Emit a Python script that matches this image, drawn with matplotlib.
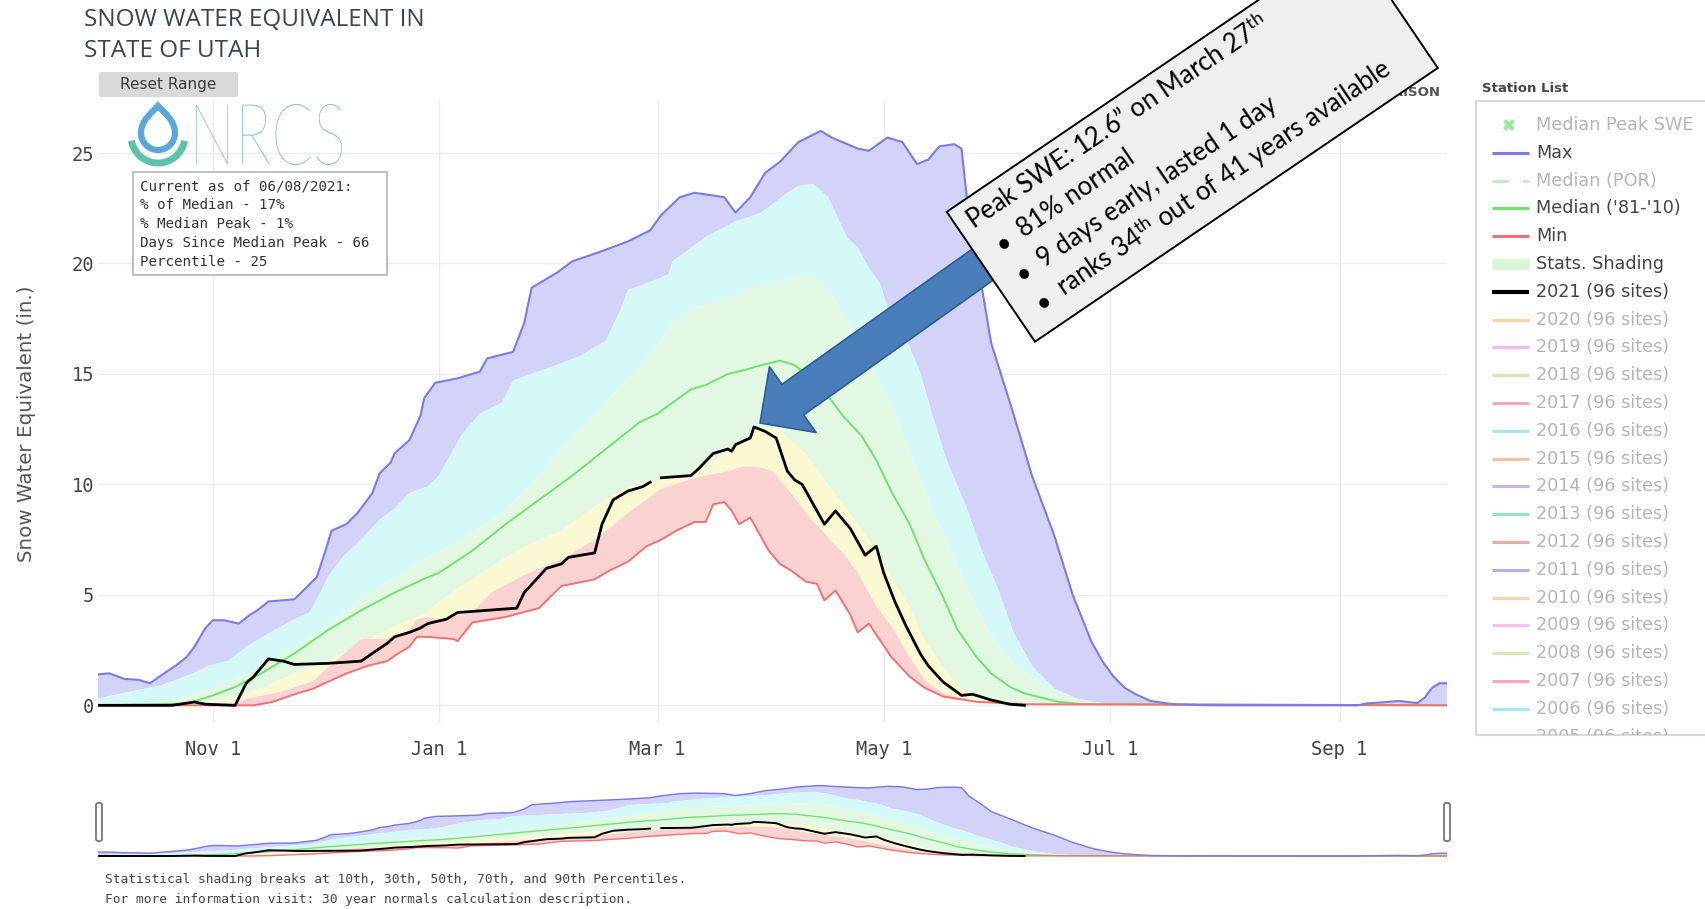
import numpy as np
import pandas as pd
import matplotlib
matplotlib.use("Agg")
import matplotlib.pyplot as plt
import matplotlib.dates as mdates
import matplotlib.patches as mpatches
from matplotlib.path import Path
from matplotlib.textpath import TextPath
from matplotlib.font_manager import FontProperties
from matplotlib.transforms import Affine2D, IdentityTransform
from matplotlib.ticker import FuncFormatter

plt.rcParams["font.family"] = "DejaVu Sans"
plt.rcParams["mathtext.fontset"] = "custom"
plt.rcParams["mathtext.rm"] = "Lato"
plt.rcParams["mathtext.it"] = "Lato:italic"
plt.rcParams["mathtext.bf"] = "Lato:bold"

# water year 2021, day 0 = Oct 1 2020
START = pd.Timestamp("2020-10-01")

# statewide SWE (in.): day of water year -> value
max_days = [0, 3, 7, 11, 14, 17, 21, 24, 26, 29, 31, 34, 38, 41, 43, 46, 53, 56, 59, 61, 63, 67,
            70, 74, 76, 79, 80, 84, 87, 88, 91, 97, 103, 105, 112, 115, 117, 124, 128, 135, 143,
            149, 152, 157, 161, 169, 172, 176, 180, 184, 189, 195, 198, 205, 208, 213, 217, 221,
            224, 227, 231, 233, 235, 238, 241, 247, 252, 258, 263, 268, 271, 274, 277, 280, 284,
            290, 300, 340, 342, 347, 351, 356, 358, 360, 362, 364]
max_vals = [1.4, 1.45, 1.2, 1.15, 1.0, 1.35, 1.8, 2.2, 2.65, 3.5, 3.85, 3.85, 3.7, 4.1, 4.3, 4.7,
            4.8, 5.3, 5.8, 6.8, 7.9, 8.2, 8.7, 9.6, 10.5, 11.0, 11.4, 12.0, 13.1, 13.9, 14.6, 14.8,
            15.1, 15.7, 16.0, 17.3, 18.9, 19.6, 20.1, 20.5, 21.0, 21.5, 22.2, 23.0, 23.2, 23.0,
            22.3, 23.0, 24.1, 24.6, 25.5, 26.0, 25.7, 25.2, 25.1, 25.7, 25.5, 24.5, 24.7, 25.3,
            25.4, 25.2, 22.1, 19.4, 16.4, 13.2, 10.4, 7.7, 5.0, 2.9, 2.0, 1.3, 0.8, 0.5, 0.2, 0.05,
            0.0, 0.0, 0.08, 0.14, 0.2, 0.1, 0.35, 0.8, 1.0, 1.0]

p90_days = [0, 8, 17, 25, 30, 35, 40, 46, 53, 57, 60, 62, 66, 71, 76, 80, 84, 87, 89, 92, 98, 103,
            109, 112, 122, 130, 137, 141, 143, 148, 154, 155, 164, 172, 179, 186, 189, 193, 197,
            202, 205, 208, 211, 214, 218, 222, 225, 229, 234, 238, 243, 247, 252, 258, 265, 274,
            280, 364]
p90_vals = [0.3, 0.6, 0.9, 1.4, 1.8, 2.0, 2.65, 3.25, 3.9, 4.2, 5.1, 5.8, 6.7, 7.5, 8.4, 8.9, 9.6,
            9.8, 9.9, 10.4, 12.2, 13.2, 13.7, 14.7, 15.3, 15.8, 16.5, 17.9, 18.8, 19.1, 19.5, 20.1,
            21.2, 21.9, 22.3, 23.2, 23.5, 23.6, 23.0, 21.2, 20.7, 19.8, 19.1, 17.5, 16.6, 15.0,
            13.2, 11.1, 9.1, 7.2, 5.2, 3.3, 1.8, 0.76, 0.23, 0.05, 0.0, 0.0]

p70_days = [0, 10, 17, 26, 35, 44, 53, 62, 71, 80, 89, 95, 101, 110, 119, 128, 137, 146, 151, 155,
            160, 164, 173, 182, 189, 193, 198, 202, 207, 211, 216, 220, 224, 228, 233, 237, 242,
            248, 255, 262, 269, 276, 364]
p70_vals = [0.0, 0.05, 0.15, 0.5, 1.0, 1.7, 2.6, 3.6, 4.8, 5.8, 6.7, 7.2, 7.8, 8.8, 10.4, 12.1,
            13.7, 15.3, 16.3, 17.3, 18.0, 18.1, 18.6, 19.1, 19.4, 19.5, 18.6, 17.4, 16.0, 14.6,
            12.8, 11.0, 9.3, 7.7, 5.9, 4.4, 2.9, 1.7, 0.9, 0.4, 0.14, 0.0, 0.0]

median_days = [0, 24, 31, 37, 44, 53, 62, 71, 80, 89, 92, 101, 110, 119, 128, 137, 146, 151, 155,
               160, 164, 170, 175, 179, 184, 188, 193, 197, 201, 206, 210, 214, 219, 223, 228,
               232, 237, 241, 246, 250, 259, 265, 364]
median_vals = [0.0, 0.08, 0.45, 0.83, 1.44, 2.35, 3.4, 4.3, 5.1, 5.8, 6.0, 7.0, 8.2, 9.3, 10.4,
               11.6, 12.8, 13.2, 13.7, 14.3, 14.5, 15.0, 15.2, 15.4, 15.6, 15.4, 14.7, 14.0, 13.1,
               12.2, 11.1, 9.7, 8.2, 6.6, 4.9, 3.4, 2.2, 1.44, 0.84, 0.54, 0.16, 0.06, 0.0]

p30_days = [0, 26, 35, 44, 53, 62, 71, 80, 89, 92, 101, 110, 119, 125, 134, 143, 152, 161, 170,
            174, 178, 183, 187, 192, 196, 201, 205, 210, 214, 219, 223, 228, 232, 241, 250, 364]
p30_vals = [0.0, 0.08, 0.3, 0.76, 1.44, 2.0, 2.8, 3.6, 4.2, 4.7, 5.7, 6.7, 7.5, 7.9, 9.0, 9.9,
            10.2, 10.5, 11.5, 12.0, 12.6, 12.6, 12.0, 11.2, 10.2, 9.1, 8.2, 7.0, 5.8, 4.45, 2.95,
            1.74, 0.84, 0.24, 0.05, 0.0]

p10_days = [0, 36, 40, 49, 58, 62, 71, 78, 84, 86, 89, 92, 101, 106, 115, 125, 134, 143, 152,
            161, 170, 174, 178, 182, 187, 192, 196, 202, 205, 210, 214, 219, 223, 228, 237, 247,
            252, 364]
p10_vals = [0.0, 0.0, 0.3, 0.6, 1.1, 1.7, 3.0, 3.0, 3.4, 3.9, 4.0, 3.9, 4.2, 5.1, 5.9, 6.6, 7.5,
            8.7, 9.8, 10.3, 10.6, 10.8, 10.8, 10.6, 9.6, 8.5, 7.8, 6.7, 6.0, 4.5, 3.6, 2.2, 1.14,
            0.54, 0.16, 0.05, 0.0, 0.0]

min_days = [0, 42, 47, 53, 58, 62, 67, 73, 78, 81, 84, 86, 89, 96, 97, 101, 110, 119, 125, 134,
            138, 143, 148, 152, 156, 161, 164, 166, 169, 171, 173, 176, 178, 181, 184, 187, 191,
            194, 196, 199, 203, 205, 208, 211, 214, 219, 223, 228, 237, 250, 364]
min_vals = [0.0, 0.0, 0.15, 0.5, 0.75, 1.06, 1.44, 1.8, 2.0, 2.35, 2.65, 3.1, 3.1, 3.0, 2.9, 3.75,
            4.0, 4.4, 5.4, 5.7, 6.1, 6.5, 7.2, 7.5, 7.9, 8.3, 8.3, 9.1, 9.2, 8.8, 8.2, 8.5, 7.9,
            7.0, 6.4, 6.1, 5.6, 5.5, 4.75, 5.2, 4.1, 3.3, 3.7, 2.95, 2.2, 1.3, 0.8, 0.4, 0.16,
            0.05, 0.0]

# 2021 (96 sites), data through 06/08/2021, one missing day around Mar 1
wy21_days = [0, 20, 24, 26, 29, 37, 40, 42, 46, 50, 53, 62, 71, 74, 78, 80, 84, 87, 89, 94, 97,
             113, 115, 121, 125, 127, 134, 136, 139, 143, 147, 149, 150, 152, 160, 162, 166, 170,
             171, 172, 176, 177, 180, 183, 186, 188, 190, 196, 199, 203, 207, 210, 212, 215, 218,
             222, 224, 228, 233, 236, 241, 246, 250]
wy21_vals = [0.0, 0.0, 0.1, 0.15, 0.05, 0.0, 1.0, 1.3, 2.1, 2.0, 1.85, 1.9, 2.0, 2.35, 2.8, 3.1,
             3.3, 3.5, 3.7, 3.9, 4.2, 4.4, 5.1, 6.2, 6.4, 6.7, 6.9, 8.2, 9.3, 9.7, 9.9, 10.1,
             np.nan, 10.3, 10.4, 10.7, 11.4, 11.6, 11.5, 11.8, 12.1, 12.6, 12.4, 12.1, 10.6, 10.2,
             10.0, 8.2, 8.8, 8.0, 6.8, 7.2, 6.0, 4.7, 3.6, 2.3, 1.8, 1.06, 0.45, 0.5, 0.24, 0.05,
             0.0]

series = {
    "max": (max_days, max_vals),
    "p90": (p90_days, p90_vals),
    "p70": (p70_days, p70_vals),
    "p30": (p30_days, p30_vals),
    "p10": (p10_days, p10_vals),
    "min": (min_days, min_vals),
}
# stats shading: 90-max, 70-90, 30-70, 10-30, min-10
bands = [("max", "p90", "#d3d3f9"), ("p90", "p70", "#d5f9f9"), ("p70", "p30", "#e3f8e3"),
         ("p30", "p10", "#fbf9d2"), ("p10", "min", "#fad2d2")]

tick_vals = [0, 5, 10, 15, 20, 25]

info_lines = ["Current as of 06/08/2021:", "% of Median - 17%", "% Median Peak - 1%",
              "Days Since Median Peak - 66", "Percentile - 25"]

note_lines = ["Peak SWE: 12.6\u201d on March 27$^{\\mathrm{th}}$", "81% normal",
              "9 days early, lasted 1 day", "ranks 34$^{\\mathrm{th}}$ out of 41 years available"]

legend_labels = ["Median Peak SWE", "Max", "Median (POR)", "Median ('81-'10)", "Min",
                 "Stats. Shading", "2021 (96 sites)"] + [f"{y} (96 sites)" for y in range(2020, 2004, -1)]
legend_styles = ["marker", "line", "dash", "line", "line", "band", "bold"] + ["line"] * 16
legend_colors = ["#9fe69f", "#7b7be6", "#bdebbd", "#6ee36e", "#f07272", "#d9f4d9", "black",
                 "#fbd3a0", "#f7b6f3", "#c9ebb1", "#f5a9b0", "#a6e5f4", "#f7c0a2", "#cdb0f1",
                 "#98e0c7", "#eca9a1", "#b1b1f2", "#f9d6a8", "#f6c1f1", "#d0edb2", "#f5a8b2",
                 "#a2e8f7", "#f7c8b0"]
legend_active = [False, True, False, True, True, True, True] + [False] * 16

MONO = "DejaVu Sans Mono"
W, H = 1706, 909
fig = plt.figure(figsize=(W / 100, H / 100), dpi=100)


def rect(x0, y0, x1, y1):
    # pixel box measured from the top-left corner -> axes rectangle
    return [x0 / W, 1 - y1 / H, (x1 - x0) / W, (y1 - y0) / H]


def dnum(days):
    return mdates.date2num(START) + np.asarray(days, dtype=float)


def draw_swe(ax, lw):
    for up, lo, col in bands:
        xu, yu = series[up]
        xl, yl = series[lo]
        xs = np.concatenate([dnum(xu), dnum(xl)[::-1]])
        ys = np.concatenate([yu, np.asarray(yl)[::-1]])
        ax.fill(xs, ys, color=col, lw=0, zorder=1)
    ax.plot(dnum(median_days), median_vals, color="#6ee36e", lw=1.4 * lw, zorder=3)
    ax.plot(dnum(min_days), min_vals, color="#f07272", lw=1.4 * lw, zorder=3)
    ax.plot(dnum(max_days), max_vals, color="#7b7be6", lw=1.5 * lw, zorder=3)
    ax.plot(dnum(wy21_days), wy21_vals, color="black", lw=2.0 * lw, zorder=4)
    ax.set_xlim(dnum(0), dnum(364))
    for s in ax.spines.values():
        s.set_visible(False)


# main chart
ax = fig.add_axes(rect(98, 100, 1447, 723))
draw_swe(ax, 1.0)
ax.set_ylim(-0.8, 27.4)
ax.set_yticks(tick_vals)
ax.xaxis.set_major_locator(mdates.MonthLocator(bymonth=[1, 3, 5, 7, 9, 11]))
ax.xaxis.set_major_formatter(FuncFormatter(
    lambda v, p: mdates.num2date(v).strftime("%b ") + str(mdates.num2date(v).day)))
ax.grid(True, color="#ebebf2", lw=1)
ax.set_axisbelow(True)
ax.tick_params(length=0, labelsize=13.5, labelcolor="#444")
for lab in ax.get_xticklabels() + ax.get_yticklabels():
    lab.set_family(MONO)
ax.tick_params(axis="x", pad=12)
ax.tick_params(axis="y", pad=3)
fig.text(27 / W, 1 - 424 / H, "Snow Water Equivalent (in.)", rotation=90, ha="center",
         va="center", size=14.3, color="#555")

# callout arrow pointing at the 2021 peak
ax.annotate("", xy=(760, H - 423), xycoords="figure pixels", xytext=(992, H - 258),
            textcoords="figure pixels", annotation_clip=False,
            arrowprops=dict(arrowstyle="simple,head_length=29,head_width=58,tail_width=27",
                            mutation_scale=1, fc="#4a7ebb", ec="#2d5d93", lw=1.2,
                            shrinkA=0, shrinkB=0))

# text partly hidden behind the callout
fig.text(1440 / W, 1 - 93 / H, "COMPARISON", ha="right", va="center", size=9.5,
         weight="bold", color="#555", zorder=0.5)

# rotated callout box
note_tr = Affine2D().rotate_deg(34.2).translate(1035, H - 341.7)
fig.add_artist(mpatches.Rectangle((0, 0), 487, 157, transform=note_tr, fc="#efefef",
                                  ec="black", lw=1.4, zorder=5))
for i, line in enumerate(note_lines):
    yb = 127 - 35.5 * i
    kw = dict(transform=note_tr, rotation=34.2, rotation_mode="anchor", ha="left",
              va="baseline", family="Lato", size=18.5, zorder=6)
    if i == 0:
        fig.text(12, yb, line, **kw)
    else:
        fig.text(22, yb, "\u2022", **kw)
        fig.text(49, yb, line, **kw)

# title, button
fig.text(84 / W, 1 - 20 / H, "SNOW WATER EQUIVALENT IN", va="center", size=17.5,
         family="Open Sans", color="#3c4454")
fig.text(84 / W, 1 - 51 / H, "STATE OF UTAH", va="center", size=17.5,
         family="Open Sans", color="#3c4454")
fig.add_artist(mpatches.FancyBboxPatch((99, H - 97), 139, 25, boxstyle="round,pad=0,rounding_size=2",
                                       transform=IdentityTransform(), fc="#d9d9d9", lw=0))
fig.text(168 / W, 1 - 85 / H, "Reset Range", ha="center", va="center", size=11, color="#3a3a3a")

# NRCS logo
drop = Path([(0, 1.6), (0.35, 1.2), (1, 0.75), (1, 0), (1, -0.55), (0.55, -1), (0, -1),
             (-0.55, -1), (-1, -0.55), (-1, 0), (-1, 0.75), (-0.35, 1.2), (0, 1.6), (0, 1.6)],
            [Path.MOVETO] + [Path.CURVE4] * 12 + [Path.CLOSEPOLY])
fig.add_artist(mpatches.PathPatch(drop, transform=Affine2D().scale(17).translate(158, H - 133),
                                  fc="none", ec="#5ba8d8", lw=4.5))
fig.add_artist(mpatches.Arc((158, H - 136), 54, 54, theta1=190, theta2=350, lw=5,
                            color="#5fc3a8", transform=IdentityTransform()))
logo = TextPath((0, 0), "NRCS", size=100, prop=FontProperties(family="Lato", weight="light"))
ext = logo.get_extents()
logo_tr = (Affine2D().translate(-ext.x0, -ext.y0)
           .scale(146 / ext.width, 61 / ext.height).translate(196, H - 165))
fig.add_artist(mpatches.PathPatch(logo, transform=logo_tr, fc="#74b6de", lw=0))

# info box
fig.add_artist(mpatches.Rectangle((133, H - 275), 254, 103, transform=IdentityTransform(),
                                  fc="white", ec="#b5b5b5", lw=1.2))
for i, line in enumerate(info_lines):
    fig.text(140 / W, 1 - (186 + 19 * i) / H, line, va="center", size=10.2, family=MONO,
             color="#333")

# legend panel
fig.text(1482 / W, 1 - 88 / H, "Station List", va="center", size=9.5, weight="bold", color="#444")
lg = fig.add_axes(rect(1476, 101, 1706, 735))
lg.set_xlim(0, 230)
lg.set_ylim(634, 0)
lg.set_xticks([])
lg.set_yticks([])
lg.spines["right"].set_visible(False)
for s in ("left", "top", "bottom"):
    lg.spines[s].set_color("#d9d9d9")
    lg.spines[s].set_linewidth(1.5)
for i, (lab, sty, col, act) in enumerate(zip(legend_labels, legend_styles, legend_colors,
                                             legend_active)):
    y = 24 + 27.8 * i
    if sty == "marker":
        lg.plot([33], [y], marker="X", ms=8, color=col, mew=0)
    elif sty == "dash":
        lg.plot([16, 53], [y, y], color=col, lw=2, dashes=(6, 5))
    elif sty == "band":
        lg.plot([16, 53], [y, y], color=col, lw=8, solid_capstyle="butt")
    else:
        lg.plot([16, 53], [y, y], color=col, lw=3 if sty == "bold" else 2.2,
                solid_capstyle="butt")
    lg.text(60, y, lab, va="center", size=12.7, color="#444" if act else "#b4b4bc", clip_on=True)

# range slider
sl = fig.add_axes(rect(98, 779, 1447, 858))
draw_swe(sl, 0.7)
sl.set_ylim(-0.74, 28.4)
sl.set_xticks([])
sl.set_yticks([])
for hx in (96, 1444):
    fig.add_artist(mpatches.FancyBboxPatch((hx, H - 841), 6, 38,
                                           boxstyle="round,pad=0,rounding_size=2",
                                           transform=IdentityTransform(), fc="white",
                                           ec="#777", lw=1.3))

fig.text(105 / W, 1 - 879 / H,
         "Statistical shading breaks at 10th, 30th, 50th, 70th, and 90th Percentiles.",
         va="center", size=9.3, family=MONO, color="#444")
fig.text(105 / W, 1 - 900 / H,
         "For more information visit: 30 year normals calculation description.",
         va="center", size=9.3, family=MONO, color="#444")

fig.savefig("out.png", dpi=100, facecolor="white")
